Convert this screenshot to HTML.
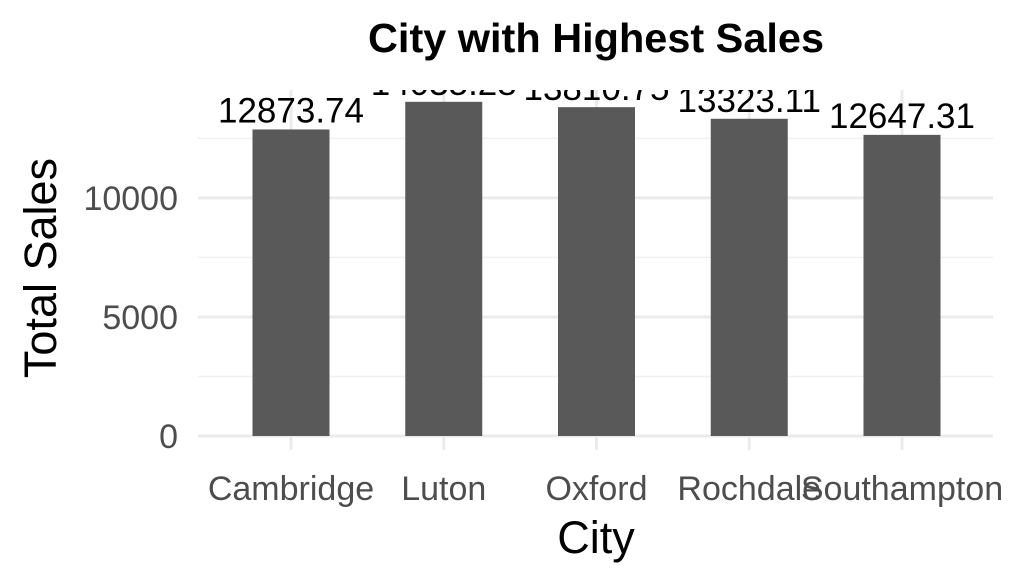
<!DOCTYPE html>
<html><head><style>
body{margin:0;background:#fff;}
svg{display:block;font-family:"Liberation Sans",sans-serif;}
</style></head><body>
<svg id="chart" width="1017" height="587" viewBox="0 0 1017 587">
<defs><clipPath id="pc"><rect x="198" y="90" width="800" height="360"/></clipPath></defs>
<text x="596" y="52" text-anchor="middle" font-size="41" font-weight="bold" fill="#000" textLength="456" lengthAdjust="spacingAndGlyphs">City with Highest Sales</text>
<g id="grid"></g>
<g id="bars" clip-path="url(#pc)"></g>
<g id="axes"></g>
<text x="596" y="553" text-anchor="middle" font-size="45" fill="#000">City</text>
<text transform="translate(56,268) rotate(-90)" text-anchor="middle" font-size="45" fill="#000">Total Sales</text>
</svg>
<script>
const categories=["Cambridge","Luton","Oxford","Rochdale","Southampton"];
const salesValues=[12873.74,14035.28,13810.75,13323.11,12647.31];
const valueLabels=["12873.74","14035.28","13810.75","13323.11","12647.31"];
const yTicks=[0,5000,10000];
const yMinor=[2500,7500,12500];
const NS="http://www.w3.org/2000/svg";
const y=v=>436-v*0.02381;
const x=i=>291+i*152.75;
function mk(tag,attrs,parent,text){const e=document.createElementNS(NS,tag);for(const k in attrs)e.setAttribute(k,attrs[k]);if(text!==undefined)e.textContent=text;parent.appendChild(e);return e;}
const grid=document.getElementById('grid'),bars=document.getElementById('bars'),axes=document.getElementById('axes');
yMinor.forEach(v=>{const l=mk('line',{x1:198,x2:993,y1:y(v),y2:y(v),stroke:'#f0f0f0','stroke-width':1.5},grid);

});
yTicks.forEach(v=>{const l=mk('line',{x1:198,x2:993,y1:y(v),y2:y(v),stroke:'#ebebeb','stroke-width':3},grid);


const t=mk('text',{x:178,y:y(v)+12,'text-anchor':'end','font-size':34,fill:'#4d4d4d'},axes,String(v));

});
categories.forEach((c,i)=>{const l=mk('line',{x1:x(i),x2:x(i),y1:90,y2:450,stroke:'#ebebeb','stroke-width':3},grid);


const b=mk('rect',{x:x(i)-38.5,y:y(salesValues[i]),width:77,height:436-y(salesValues[i]),fill:'#595959'},bars);


const lb=mk('text',{x:x(i),y:y(salesValues[i])-7,'text-anchor':'middle','font-size':35,fill:'#000'},bars,valueLabels[i]);


const t=mk('text',{x:x(i),y:500,'text-anchor':'middle','font-size':34,fill:'#4d4d4d'},axes,c);

});
</script>
</body></html>
